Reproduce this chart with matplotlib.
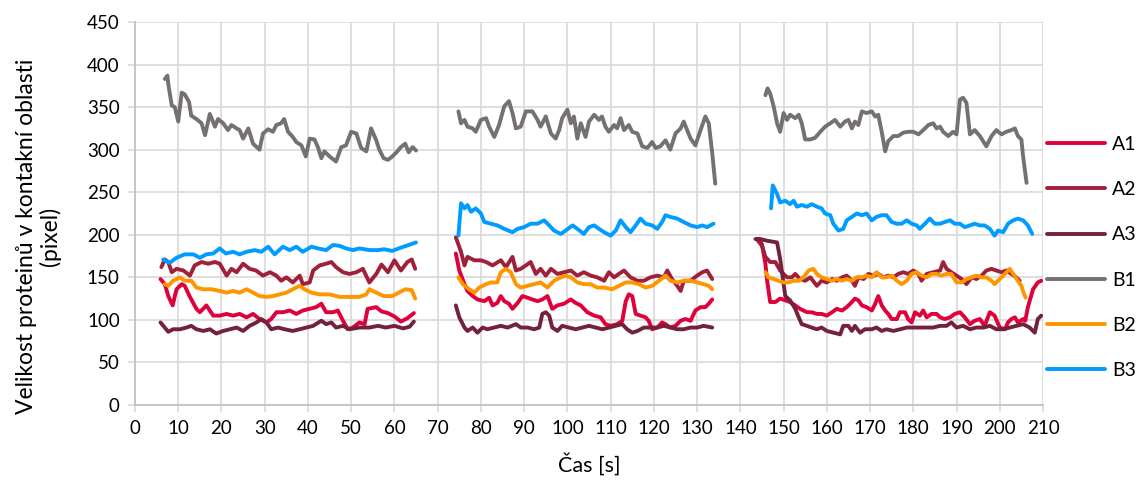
import numpy as np
import matplotlib
matplotlib.use("Agg")
import matplotlib.pyplot as plt

plt.rcParams["font.family"] = ["Lato", "DejaVu Sans"]

# (time [s], size [pixel]), three recording segments per series
A1_seg1 = [(5.9,148),(6.9,142),(7.7,128),(8.7,117),(9.6,136),(10.8,142),(11.5,140),(12.7,127),(14.2,113),(15.0,109),
           (16.5,117),(18.1,105),(19.6,105),(21.2,107),(22.7,105),(24.2,107),(25.8,103),(27.3,107),(28.8,101),(30.4,97),
           (31.5,101),(32.7,109),(34.2,109),(35.8,111),(37.3,107),(38.8,111),(40.4,113),(41.9,115),(43.1,119),(44.2,109),
           (45.8,109),(46.9,111),(48.1,99),(49.2,89),(50.4,91),(51.9,97),(53.1,95),(53.8,113),(55.8,115),(57.0,110),
           (58.5,108),(60.0,104),(61.5,98),(63.0,102),(64.5,108)]
A1_seg2 = [(74.2,178),(75.0,158),(76.2,142),(76.9,134),(78.1,128),(79.2,124),(80.8,122),(81.9,126),(82.7,117),(83.8,120),
           (84.6,128),(85.4,122),(86.5,119),(87.3,113),(88.5,120),(89.6,128),(90.8,126),(91.9,124),(93.1,122),(94.2,124),
           (95.4,128),(96.5,113),(97.7,117),(99.2,119),(100.8,124),(101.9,120),(103.1,117),(104.6,109),(106.2,105),(107.7,103),
           (108.8,95),(110.0,93),(111.5,95),(112.7,99),(113.5,122),(114.2,130),(115.0,128),(115.8,107),(116.9,105),(118.1,103),
           (118.8,99),(119.6,89),(120.8,91),(121.9,97),(122.7,95),(123.8,91),(125.0,93),(126.2,99),(127.3,101),(128.5,99),
           (129.6,111),(130.8,115),(131.9,115),(132.7,119),(133.5,124)]
A1_seg3 = [(144.2,195),(145.0,189),(145.8,166),(146.2,146),(146.9,121),(148.1,121),(149.2,125),(150.4,123),(151.5,121),(152.7,117),
           (153.8,113),(155.4,109),(156.5,109),(157.7,107),(158.8,107),(160.0,105),(161.2,109),(162.3,113),(163.5,111),(164.6,115),
           (165.8,121),(166.5,125),(167.3,123),(168.1,117),(169.2,115),(170.4,111),(171.2,119),(171.9,128),(172.7,117),(173.5,111),
           (174.2,107),(175.0,101),(176.2,101),(176.9,109),(178.1,109),(178.8,101),(179.6,97),(180.4,109),(181.5,105),(182.3,111),
           (183.1,103),(184.2,107),(185.4,107),(186.2,103),(187.3,101),(188.5,103),(189.6,107),(190.8,109),(191.9,103),(193.1,95),
           (194.2,99),(195.4,101),(196.5,93),(197.7,109),(198.8,105),(200.0,91),(201.2,89),(201.9,97),(202.7,101),(203.5,103),
           (204.2,97),(205.4,101),(205.9,99),(206.5,115),(207.7,136),(208.8,144),(209.6,146)]

A2_seg1 = [(6.1,162),(6.9,171),(7.7,168),(8.5,156),(9.6,160),(11.2,158),(12.7,152),(13.8,164),(15.4,168),(16.9,166),
           (18.5,168),(19.6,166),(21.2,152),(22.3,160),(23.5,156),(25.0,166),(26.5,160),(28.0,158),(29.6,152),(31.2,156),
           (32.7,152),(33.8,146),(35.0,150),(36.5,144),(38.1,152),(38.8,142),(40.4,144),(41.2,158),(42.7,164),(44.2,166),
           (45.4,168),(46.5,162),(48.1,156),(49.6,154),(51.2,156),(52.7,160),(54.2,144),(55.8,154),(57.0,165),(58.5,156),
           (60.0,170),(61.5,158),(63.0,168),(64.0,171),(64.8,160)]
A2_seg2 = [(74.2,197),(75.4,180),(76.2,164),(76.9,174),(78.5,170),(80.0,170),(81.2,168),(82.7,164),(84.6,170),(85.8,162),
           (87.3,174),(88.1,158),(89.2,160),(90.4,164),(91.5,168),(92.7,154),(93.8,160),(95.0,152),(96.2,160),(97.7,154),
           (99.2,156),(100.8,158),(102.3,152),(103.8,156),(105.4,152),(106.9,150),(108.5,146),(109.6,156),(110.8,150),(111.9,154),
           (113.1,158),(114.6,150),(116.2,146),(117.7,146),(119.2,150),(120.8,152),(122.3,150),(123.1,158),(124.2,148),(125.4,140),
           (126.2,134),(126.9,146),(128.5,146),(130.0,152),(131.2,156),(132.3,158),(133.5,148)]
A2_seg3 = [(143.8,195),(145.0,187),(145.8,174),(146.9,168),(148.1,168),(149.2,158),(150.8,150),(151.9,150),(152.7,154),(153.8,148),
           (155.0,146),(156.2,150),(157.7,140),(158.8,146),(160.0,144),(161.2,148),(162.3,146),(163.5,150),(164.6,152),(165.8,146),
           (166.5,140),(167.3,150),(168.5,148),(169.6,154),(170.8,152),(171.9,154),(173.1,150),(174.2,152),(175.4,150),(176.5,154),
           (177.7,156),(178.8,154),(180.0,158),(181.2,154),(181.9,146),(183.1,154),(184.6,156),(186.2,158),(186.9,168),(187.7,160),
           (188.8,156),(190.0,152),(191.2,148),(192.3,142),(193.5,150),(194.6,148),(195.8,152),(196.9,158),(198.1,160),(199.2,158),
           (200.4,156),(201.5,158),(202.7,154),(203.8,150),(204.6,146)]

A3_seg1 = [(5.9,97),(6.9,91),(7.7,86),(8.8,89),(10.4,89),(11.9,91),(13.0,93),(14.2,89),(15.8,87),(17.3,89),
           (18.8,84),(20.4,87),(21.9,89),(23.5,91),(25.0,87),(26.5,93),(28.1,97),(29.2,101),(30.4,97),(31.5,89),
           (33.1,91),(34.6,89),(36.5,87),(38.1,89),(39.6,91),(41.2,93),(43.1,99),(44.2,95),(45.4,97),(46.5,91),
           (48.1,93),(49.6,89),(51.9,91),(54.2,91),(56.2,93),(58.0,91),(60.0,93),(62.0,90),(63.5,92),(64.5,98)]
A3_seg2 = [(74.2,117),(75.0,103),(76.2,91),(76.9,87),(78.1,91),(79.2,85),(80.4,91),(81.5,89),(83.1,91),(84.6,93),
           (86.2,91),(88.1,95),(89.2,91),(90.8,91),(92.3,89),(93.5,91),(94.2,107),(95.0,109),(95.8,105),(96.5,91),
           (97.7,87),(98.8,93),(100.4,91),(101.9,89),(103.5,91),(105.0,93),(106.5,91),(108.1,89),(109.6,91),(111.2,93),
           (112.7,95),(113.8,89),(115.0,85),(116.2,87),(117.7,91),(119.2,91),(120.8,91),(122.3,93),(123.8,91),(125.4,89),
           (126.9,89),(128.5,91),(130.0,91),(131.5,93),(133.5,91)]
A3_seg3 = [(143.5,195),(144.6,195),(146.2,193),(148.5,191),(149.2,172),(150.4,128),(151.5,123),(152.7,113),(153.5,103),(154.2,95),
           (155.4,93),(156.5,91),(157.7,89),(158.8,91),(160.0,87),(161.5,85),(163.1,83),(163.8,93),(165.0,93),(165.8,87),
           (166.5,93),(167.7,85),(168.8,89),(170.4,89),(171.5,91),(172.7,87),(173.8,89),(175.4,87),(176.9,89),(178.5,91),
           (180.0,91),(181.5,91),(183.1,91),(184.6,91),(186.2,93),(187.7,93),(188.8,97),(190.0,91),(191.5,93),(193.1,89),
           (194.6,91),(196.2,91),(197.7,93),(199.2,89),(200.8,89),(202.3,91),(203.8,93),(205.4,95),(206.9,91),(208.1,85),
           (208.8,101),(209.6,105)]

B1_seg1 = [(6.9,383),(7.5,387),(7.7,377),(8.5,352),(9.2,350),(10.0,333),(10.8,367),(11.5,365),(12.5,356),(13.0,340),
           (14.2,336),(15.4,331),(16.2,317),(17.3,342),(18.5,327),(19.2,336),(20.4,331),(21.5,323),(22.3,329),(23.5,325),
           (24.2,323),(25.0,313),(26.2,325),(27.3,307),(28.8,300),(29.6,319),(30.8,324),(31.9,321),(32.7,329),(33.8,331),
           (34.5,336),(35.4,321),(36.5,315),(37.3,309),(38.5,305),(39.5,292),(40.4,313),(41.5,312),(42.3,303),(43.1,290),
           (43.8,298),(45.0,292),(46.5,286),(47.7,303),(48.8,305),(50.0,321),(51.2,319),(52.3,302),(53.5,298),(54.6,325),
           (55.8,311),(56.5,300),(57.5,290),(58.5,288),(59.5,292),(60.5,297),(61.5,303),(62.5,307),(63.3,297),(64.2,303),
           (65.0,299)]
B1_seg2 = [(74.8,345),(75.4,331),(76.2,335),(76.9,327),(78.1,325),(78.8,321),(80.0,335),(81.2,337),(81.9,327),(83.1,315),
           (84.2,329),(85.4,351),(86.5,357),(87.3,343),(88.1,325),(89.2,327),(90.4,345),(91.9,345),(93.1,335),(93.8,327),
           (95.0,339),(96.2,319),(97.3,313),(98.1,323),(98.8,337),(100.0,347),(100.8,331),(101.5,339),(102.3,313),(103.1,331),
           (104.2,315),(105.0,333),(106.2,341),(107.3,335),(108.0,339),(108.8,327),(109.6,321),(110.8,329),(111.5,325),(112.3,337),
           (113.1,323),(114.2,329),(115.0,321),(116.2,319),(117.3,304),(118.5,302),(119.6,309),(120.4,302),(121.5,304),(122.7,311),
           (123.8,300),(125.0,319),(126.2,325),(126.9,333),(127.7,323),(128.5,313),(129.6,305),(130.8,323),(131.9,339),(132.7,331),
           (133.5,296),(134.2,260)]
B1_seg3 = [(145.8,364),(146.3,372),(146.9,366),(147.7,351),(148.5,331),(149.2,321),(150.0,343),(150.8,335),(151.5,341),(152.7,337),
           (153.5,341),(154.2,331),(155.0,312),(156.2,312),(157.3,314),(158.5,321),(159.6,327),(160.8,331),(161.9,335),(163.1,327),
           (164.2,333),(165.0,335),(165.8,325),(166.5,333),(167.3,329),(168.1,345),(169.2,343),(170.4,345),(171.2,339),(171.9,341),
           (172.7,321),(173.5,298),(174.2,310),(175.4,316),(176.5,316),(177.7,320),(178.8,321),(180.0,321),(181.2,318),(182.3,323),
           (183.5,329),(184.6,331),(185.4,325),(186.2,327),(186.9,321),(188.1,316),(189.2,321),(190.0,318),(190.8,359),(191.5,361),
           (192.3,355),(193.1,318),(194.2,323),(195.4,316),(196.9,304),(198.1,316),(199.2,323),(200.4,318),(201.5,321),(202.7,323),
           (203.5,325),(204.2,316),(205.0,312),(205.4,292),(206.2,261)]

B2_seg1 = [(6.9,142),(7.7,140),(8.8,146),(10.4,150),(11.5,146),(13.0,146),(14.2,138),(15.8,136),(17.7,136),(19.6,134),
           (21.2,132),(22.7,134),(24.2,132),(25.8,136),(27.3,132),(28.8,128),(30.4,127),(31.9,128),(33.5,130),(35.0,132),
           (36.5,136),(38.1,140),(39.2,136),(40.8,132),(42.7,130),(45.0,130),(47.3,127),(49.6,127),(51.9,127),(53.5,130),
           (54.2,136),(55.8,132),(57.5,128),(59.5,128),(61.0,132),(62.5,136),(64.0,135),(64.8,125)]
B2_seg2 = [(74.8,150),(75.8,142),(77.3,136),(78.5,132),(79.6,138),(81.2,142),(82.3,144),(83.8,144),(84.6,156),(85.8,160),
           (86.9,156),(88.1,142),(89.2,138),(90.8,140),(92.3,142),(93.8,144),(95.4,138),(96.9,146),(98.5,150),(99.6,152),
           (100.8,150),(102.3,144),(103.8,142),(105.4,142),(106.9,138),(108.5,138),(110.4,136),(111.9,140),(113.5,144),(115.0,144),
           (116.5,142),(118.1,138),(119.6,140),(121.2,146),(122.7,152),(123.8,146),(125.4,144),(126.9,146),(128.5,146),(130.0,144),
           (131.5,142),(132.7,140),(133.5,136)]
B2_seg3 = [(145.8,156),(146.5,150),(147.7,148),(148.8,146),(150.0,144),(151.2,144),(152.3,146),(153.5,146),(154.6,150),(155.8,158),
           (156.9,160),(157.7,154),(158.8,150),(160.0,148),(161.2,146),(162.3,148),(163.5,146),(164.6,148),(165.8,146),(166.9,150),
           (168.1,150),(169.2,152),(170.4,150),(171.5,156),(172.7,150),(173.8,150),(175.0,152),(176.2,146),(177.3,142),(178.5,146),
           (179.6,154),(180.8,156),(181.9,152),(183.1,150),(184.2,154),(185.4,154),(186.5,152),(187.7,154),(188.8,154),(190.0,144),
           (191.2,144),(192.3,148),(193.5,150),(194.6,152),(195.8,150),(196.9,150),(198.1,146),(198.8,142),(200.0,148),(201.2,154),
           (202.3,160),(203.1,154),(204.2,146),(205.0,140),(205.5,132),(206.0,126)]

B3_seg1 = [(6.5,171),(8.0,167),(9.6,173),(11.5,177),(13.5,177),(15.0,173),(16.5,177),(18.1,178),(19.6,184),(21.0,178),
           (22.7,180),(24.2,177),(25.8,180),(27.7,182),(29.2,180),(30.8,186),(32.3,177),(34.2,186),(35.8,182),(37.3,186),
           (38.8,180),(40.8,186),(42.3,184),(44.2,182),(45.8,188),(47.3,187),(48.8,184),(50.4,182),(51.9,184),(54.2,182),
           (56.2,182),(57.6,183),(59.5,181),(61.0,184),(63.3,188),(65.0,191)]
B3_seg2 = [(74.8,199),(75.4,237),(76.2,231),(76.9,235),(77.7,227),(78.8,231),(80.0,225),(80.8,215),(82.3,213),(83.8,211),
           (85.4,207),(87.3,203),(88.5,207),(90.0,209),(91.5,213),(93.1,213),(94.6,217),(95.8,211),(96.9,205),(98.5,201),
           (99.6,205),(101.2,211),(102.3,207),(103.8,201),(105.0,209),(106.2,211),(107.3,207),(108.5,203),(110.0,199),(111.2,205),
           (112.3,217),(113.5,209),(114.6,203),(115.8,211),(116.9,219),(118.1,213),(119.6,211),(120.8,207),(121.9,215),(122.7,223),
           (123.8,221),(125.4,219),(126.9,215),(128.5,211),(130.0,209),(131.2,211),(132.3,209),(133.8,213)]
B3_seg3 = [(147.1,231),(147.5,258),(148.5,248),(149.2,238),(150.4,240),(151.5,236),(152.3,240),(153.1,233),(154.2,235),(155.4,233),
           (156.5,236),(157.7,233),(158.8,231),(159.6,225),(160.8,223),(161.5,213),(162.7,205),(163.8,207),(164.6,217),(165.8,221),
           (166.9,225),(168.1,223),(169.2,225),(170.4,217),(171.5,221),(172.7,223),(173.8,223),(175.0,215),(176.2,213),(177.3,213),
           (178.5,217),(179.6,213),(180.8,211),(181.5,207),(182.7,213),(183.8,219),(185.0,213),(186.2,213),(187.3,215),(188.5,217),
           (189.6,213),(190.8,213),(191.9,209),(193.1,211),(194.2,213),(195.4,211),(196.5,211),(197.7,207),(198.8,199),(199.6,205),
           (200.8,203),(201.9,213),(203.1,217),(204.2,219),(205.4,217),(206.5,211),(207.5,201)]

series_names = ["A1", "A2", "A3", "B1", "B2", "B3"]
series_segments = {
    "A1": [A1_seg1, A1_seg2, A1_seg3],
    "A2": [A2_seg1, A2_seg2, A2_seg3],
    "A3": [A3_seg1, A3_seg2, A3_seg3],
    "B1": [B1_seg1, B1_seg2, B1_seg3],
    "B2": [B2_seg1, B2_seg2, B2_seg3],
    "B3": [B3_seg1, B3_seg2, B3_seg3],
}
colors = {"A1": "#E0003A", "A2": "#A0203A", "A3": "#74213C",
          "B1": "#767171", "B2": "#FF9600", "B3": "#009CFF"}


def joined(segs):
    # NaN between segments so the line breaks between recordings
    xs, ys = [], []
    for s in segs:
        xs += [p[0] for p in s] + [np.nan]
        ys += [p[1] for p in s] + [np.nan]
    return np.array(xs), np.array(ys)


fig = plt.figure(figsize=(11.37, 4.88), dpi=100)
ax = fig.add_axes([135/1137, 83/488, 908/1137, 383/488])

for name in series_names:
    x, y = joined(series_segments[name])
    ax.plot(x, y, color=colors[name], lw=2.8, solid_joinstyle="round", solid_capstyle="round", label=name)

ax.set_xlim(0, 210)
ax.set_ylim(0, 450)
ax.set_xticks(range(0, 211, 10))
ax.set_yticks(range(0, 451, 50))
ax.grid(True, color="#D9D9D9", lw=1.2)
ax.set_axisbelow(True)
for s in ["top", "right"]:
    ax.spines[s].set_visible(False)
for s in ["left", "bottom"]:
    ax.spines[s].set_color("#BFBFBF")
    ax.spines[s].set_linewidth(1.2)
ax.tick_params(length=5, width=1.2, color="#D9D9D9", labelsize=13.5, labelcolor="#000000", pad=6)

ax.set_xlabel("Čas [s]", fontsize=15.5, labelpad=11)
fig.text(0.034, 0.515, "Velikost proteinů v kontakní oblasti\n(pixel)", rotation=90,
         ha="center", va="center", fontsize=16.5, linespacing=1.1)

leg = ax.legend(loc="center left", bbox_to_anchor=(1.004, 0.385), frameon=False, fontsize=14,
                handlelength=3.0, handletextpad=0.35, labelspacing=1.45, borderpad=0, borderaxespad=0)
for h in leg.get_lines():
    h.set_linewidth(2.8)

fig.savefig("out.png", dpi=100)
